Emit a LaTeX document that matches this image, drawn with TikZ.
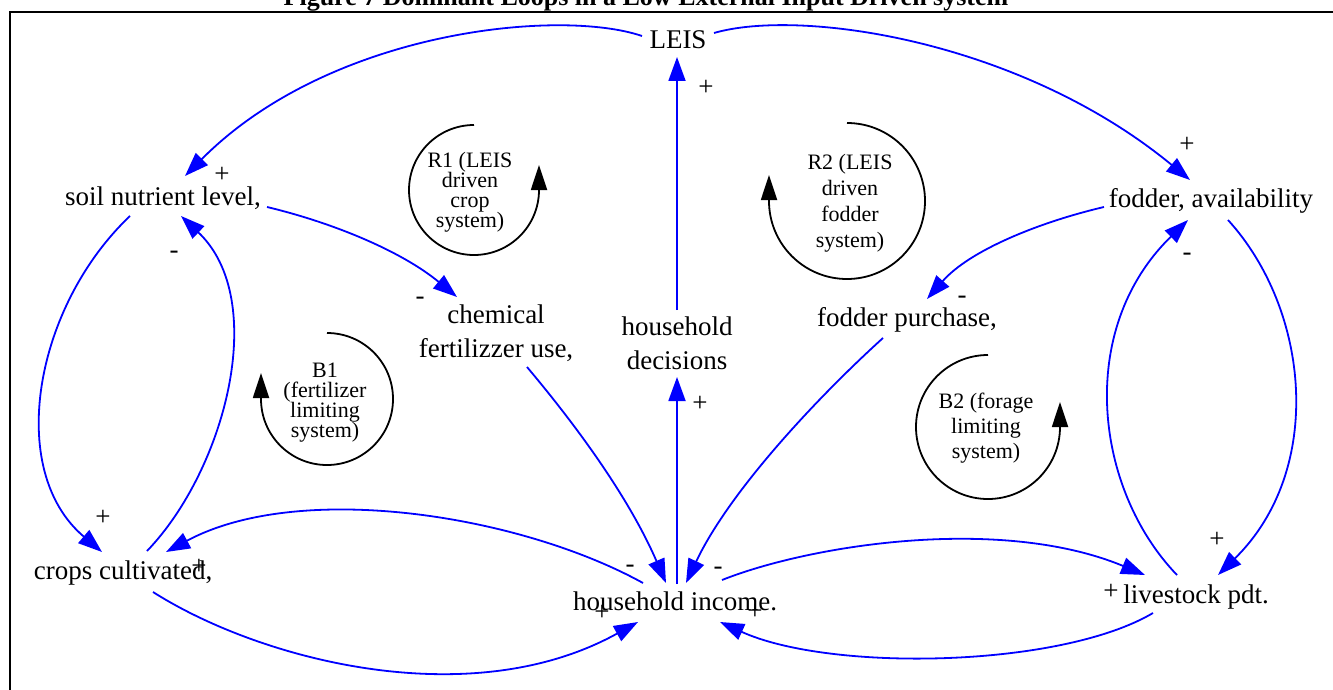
\documentclass[tikz,border=0pt]{standalone}
\usepackage{fontspec}
\setmainfont{Liberation Serif}
\usetikzlibrary{arrows.meta}
\newcommand\tightlines{\lineskiplimit=-30pt\relax}
\begin{document}
\begin{tikzpicture}[x=1pt,y=-1pt,
  var/.style={anchor=base,inner sep=0pt,align=center,font=\fontsize{27}{34}\selectfont},
  pol/.style={inner sep=0pt,font=\fontsize{27}{30}\selectfont},
  link/.style={draw=blue,line width=1.8pt,-{Triangle[length=24pt,width=17pt]}},
  loopname/.style={anchor=base,inner sep=0pt,align=center},
  looparc/.style={draw=black,line width=1.8pt,-{Triangle[length=25pt,width=16pt]}},
  frameline/.style={draw=black,line width=2.5pt}]
\useasboundingbox (0,0) rectangle (1333,690);

% caption and frame
\node[anchor=base,inner sep=0pt,font=\bfseries\fontsize{26}{30}\selectfont] (title) at (646,6)
  {Figure 7 Dominant Loops in a Low External Input Driven system};
\draw[frameline] (10,720) -- (10,12) -- (1340,12);

% variables (multi-line labels are placed by their last baseline)
\node[var] (leis)  at (678,49)  {LEIS};
\node[var] (soil)  at (163,205) {soil nutrient level,};
\node[var] (chem)  at (496,357) {chemical\\fertilizzer use,};
\node[var] (dec)   at (677,369) {household\\decisions};
\node[var] (purch) at (907,326) {fodder purchase,};
\node[var] (avail) at (1211,207) {fodder, availability};
\node[var] (crops) at (123,579) {crops cultivated,};
\node[var] (inc)   at (675,610) {household income.};
\node[var] (live)  at (1196,603) {livestock pdt.};

% causal links
\draw[link] ([shift={(-36,-13)}]leis.base) .. controls +(-82,-28) and +(145,-146) .. ([shift={(22,-29)}]soil.base);
\draw[link] ([shift={(36,-16)}]leis.base) .. controls +(86,-25) and +(-170,-140) .. ([shift={(-21,-27)}]avail.base);
\draw[link] ([shift={(0,-59)}]dec.base) -- ([shift={(-1,8)}]leis.base);
\draw[link] ([shift={(2,-26)}]inc.base) -- ([shift={(0,8)}]dec.base);
\draw[link] ([shift={(104,2)}]soil.base) .. controls +(63,15) and +(-57,-47) .. ([shift={(-39,-60)}]chem.base);
\draw[link] ([shift={(-33,11)}]soil.base) .. controls +(-95,90) and +(-97,-82) .. ([shift={(-21,-27)}]crops.base);
\draw[link] ([shift={(24,-28)}]crops.base) .. controls +(78,-81) and +(89,84) .. ([shift={(18,11)}]soil.base);
\draw[link] ([shift={(-32,-27)}]inc.base) .. controls +(-123,-68) and +(134,-72) .. ([shift={(43,-27)}]crops.base);
\draw[link] ([shift={(31,10)}]chem.base) .. controls +(53,63) and +(-36,-83) .. ([shift={(-9,-27)}]inc.base);
\draw[link] ([shift={(-24,12)}]purch.base) .. controls +(-63,57) and +(44,-93) .. ([shift={(11,-27)}]inc.base);
\draw[link] ([shift={(-107,0)}]avail.base) .. controls +(-64,15) and +(43,-49) .. ([shift={(20,-27)}]purch.base);
\draw[link] ([shift={(17,13)}]avail.base) .. controls +(82,90) and +(107,-105) .. ([shift={(22,-28)}]live.base);
\draw[link] ([shift={(-19,-28)}]live.base) .. controls +(-82,-85) and +(-113,110) .. ([shift={(-23,13)}]avail.base);
\draw[link] ([shift={(47,-30)}]inc.base) .. controls +(88,-35) and +(-145,-60) .. ([shift={(-51,-28)}]live.base);
\draw[link] ([shift={(-43,10)}]live.base) .. controls +(-93,55) and +(110,50) .. ([shift={(45,12)}]inc.base);
\draw[link] ([shift={(30,13)}]crops.base) .. controls +(107,68) and +(-168,93) .. ([shift={(-37,12)}]inc.base);

% link polarities
\node[pol] (p1)  at (222,175)  {+};
\node[pol] (p2)  at (1187,145) {+};
\node[pol] (p3)  at (706,88)   {+};
\node[pol] (p4)  at (700,404)  {+};
\node[pol] (p5)  at (420,301)  {-};
\node[pol] (p6)  at (103,518)  {+};
\node[pol] (p7)  at (174,255)  {-};
\node[pol] (p8)  at (199,567)  {+};
\node[pol] (p9)  at (630,569)  {-};
\node[pol] (p10) at (718,571)  {-};
\node[pol] (p11) at (602,613)  {+};
\node[pol] (p12) at (755,612)  {+};
\node[pol] (p13) at (962,300)  {-};
\node[pol] (p14) at (1217,540) {+};
\node[pol] (p15) at (1187,257) {-};
\node[pol] (p16) at (1111,592) {+};

% loop markers
\draw[looparc] (474,125) arc[start angle=-90,end angle=-360,radius=65] -- ++(0,-25);
\draw[looparc] (847,123) arc[start angle=-90,end angle=180,radius=78] -- ++(0,-26);
\draw[looparc] (327,333) arc[start angle=-90,end angle=180,radius=66] -- ++(0,-26);
\draw[looparc] (988,355) arc[start angle=-90,end angle=-360,radius=72] -- ++(0,-25);

\node[loopname,font=\fontsize{22}{20}\selectfont\tightlines] (r1) at (470,227) {R1 (LEIS\\driven\\crop\\system)};
\node[loopname,font=\fontsize{22}{26}\selectfont\tightlines] (r2) at (850,247) {R2 (LEIS\\driven\\fodder\\system)};
\node[loopname,font=\fontsize{22}{20}\selectfont\tightlines] (b1) at (325,437) {B1\\(fertilizer\\limiting\\system)};
\node[loopname,font=\fontsize{22}{25}\selectfont\tightlines] (b2) at (986,458) {B2 (forage\\limiting\\system)};
\end{tikzpicture}
\end{document}
